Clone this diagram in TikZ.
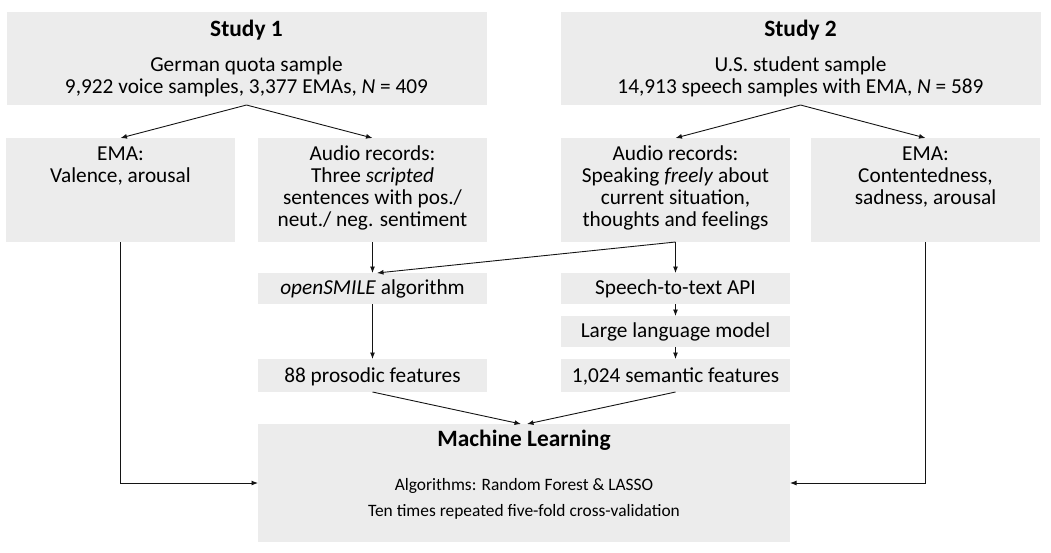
\documentclass[tikz,border=0pt]{standalone}
\usepackage{fontspec}
\setmainfont{Carlito}
\usetikzlibrary{arrows.meta}
\definecolor{boxfill}{RGB}{236,236,236}
\definecolor{linecol}{RGB}{20,20,20}
\begin{document}
\begin{tikzpicture}[x=1pt,y=-1pt,
  box/.style={rectangle, fill=boxfill, draw=none, inner sep=0pt, outer sep=0pt},
  body/.style={anchor=base, inner sep=0pt, font=\fontsize{21.3}{22}\selectfont},
  headline/.style={anchor=base, inner sep=0pt, font=\fontsize{23.4}{26}\selectfont\bfseries},
  detail/.style={anchor=base, inner sep=0pt, font=\fontsize{17.4}{20}\selectfont},
  conn/.style={draw=linecol, line width=0.9pt, -{Latex[length=6.5pt,width=5pt]}}
]
\useasboundingbox (0,0) rectangle (1051,552);

% study boxes
\node[box, minimum width=480pt, minimum height=93pt] (s1) at (246.5,58.5) {};
\node[box, minimum width=480pt, minimum height=93pt] (s2) at (800.5,58.5) {};

% second row
\node[box, minimum width=229pt, minimum height=104pt] (ema1) at (120.5,190) {};
\node[box, minimum width=229pt, minimum height=104pt] (aud1) at (372.5,190) {};
\node[box, minimum width=229pt, minimum height=104pt] (aud2) at (675.5,190) {};
\node[box, minimum width=229pt, minimum height=104pt] (ema2) at (925.5,190) {};

% processing steps
\node[box, minimum width=229pt, minimum height=31pt] (smile) at (372.5,288.5) {};
\node[box, minimum width=229pt, minimum height=31pt] (stt) at (675.5,288.5) {};
\node[box, minimum width=229pt, minimum height=31pt] (llm) at (675.5,331.5) {};
\node[box, minimum width=229pt, minimum height=33pt] (pros) at (372.5,375.5) {};
\node[box, minimum width=229pt, minimum height=33pt] (sem) at (675.5,375.5) {};

% machine learning
\node[box, minimum width=532pt, minimum height=118pt] (ml) at (524,483) {};

% texts
\node[headline] (s1t) at (246.5,36) {Study 1};
\node[body] (s1a) at (246.5,71) {German quota sample};
\node[body] (s1b) at (246.5,93) {9,922 voice samples, 3,377 EMAs, \textit{N} = 409};

\node[headline] (s2t) at (800.5,36) {Study 2};
\node[body] (s2a) at (800.5,71) {U.S. student sample};
\node[body] (s2b) at (800.5,93) {14,913 speech samples with EMA, \textit{N} = 589};

\node[body] (e1a) at (120.5,160) {EMA:};
\node[body] (e1b) at (120.5,182) {Valence, arousal};

\node[body] (a1a) at (372.5,160) {Audio records:};
\node[body] (a1b) at (372.5,182) {Three \textit{scripted}};
\node[body] (a1c) at (372.5,204) {sentences with pos./};
\node[body] (a1d) at (372.5,226) {neut./ neg. sentiment};

\node[body] (a2a) at (675.5,160) {Audio records:};
\node[body] (a2b) at (675.5,182) {Speaking \textit{freely} about};
\node[body] (a2c) at (675.5,204) {current situation,};
\node[body] (a2d) at (675.5,226) {thoughts and feelings};

\node[body] (e2a) at (925.5,160) {EMA:};
\node[body] (e2b) at (925.5,182) {Contentedness,};
\node[body] (e2c) at (925.5,204) {sadness, arousal};

\node[body] (smilet) at (372.5,294) {\textit{openSMILE} algorithm};
\node[body] (sttt) at (675.5,294) {Speech-to-text API};
\node[body] (llmt) at (675.5,337) {Large language model};
\node[body] (prost) at (372.5,382) {88 prosodic features};
\node[body] (semt) at (675.5,382) {1,024 semantic features};

\node[headline] (mlt) at (524,446) {Machine Learning};
\node[detail] (mla) at (524,490) {Algorithms: Random Forest \& LASSO};
\node[detail] (mlb) at (524,516) {Ten times repeated five-fold cross-validation};

% connectors
\draw[conn] (s1.south) -- (ema1.north);
\draw[conn] (s1.south) -- (aud1.north);
\draw[conn] (s2.south) -- (aud2.north);
\draw[conn] (s2.south) -- (ema2.north);
\draw[conn] (aud1.south) -- (smile.north);
\draw[conn] (aud2.south) -- ([xshift=4.5pt]smile.north);
\draw[conn] (aud2.south) -- (stt.north);
\draw[conn] (smile.south) -- (pros.north);
\draw[conn] (stt.south) -- (llm.north);
\draw[conn] (llm.south) -- (sem.north);
\draw[conn] (pros.south) -- ([xshift=-3pt]ml.north);
\draw[conn] (sem.south) -- ([xshift=3pt]ml.north);
\draw[conn] (ema1.south) |- (ml.west);
\draw[conn] (ema2.south) |- (ml.east);
\end{tikzpicture}
\end{document}
